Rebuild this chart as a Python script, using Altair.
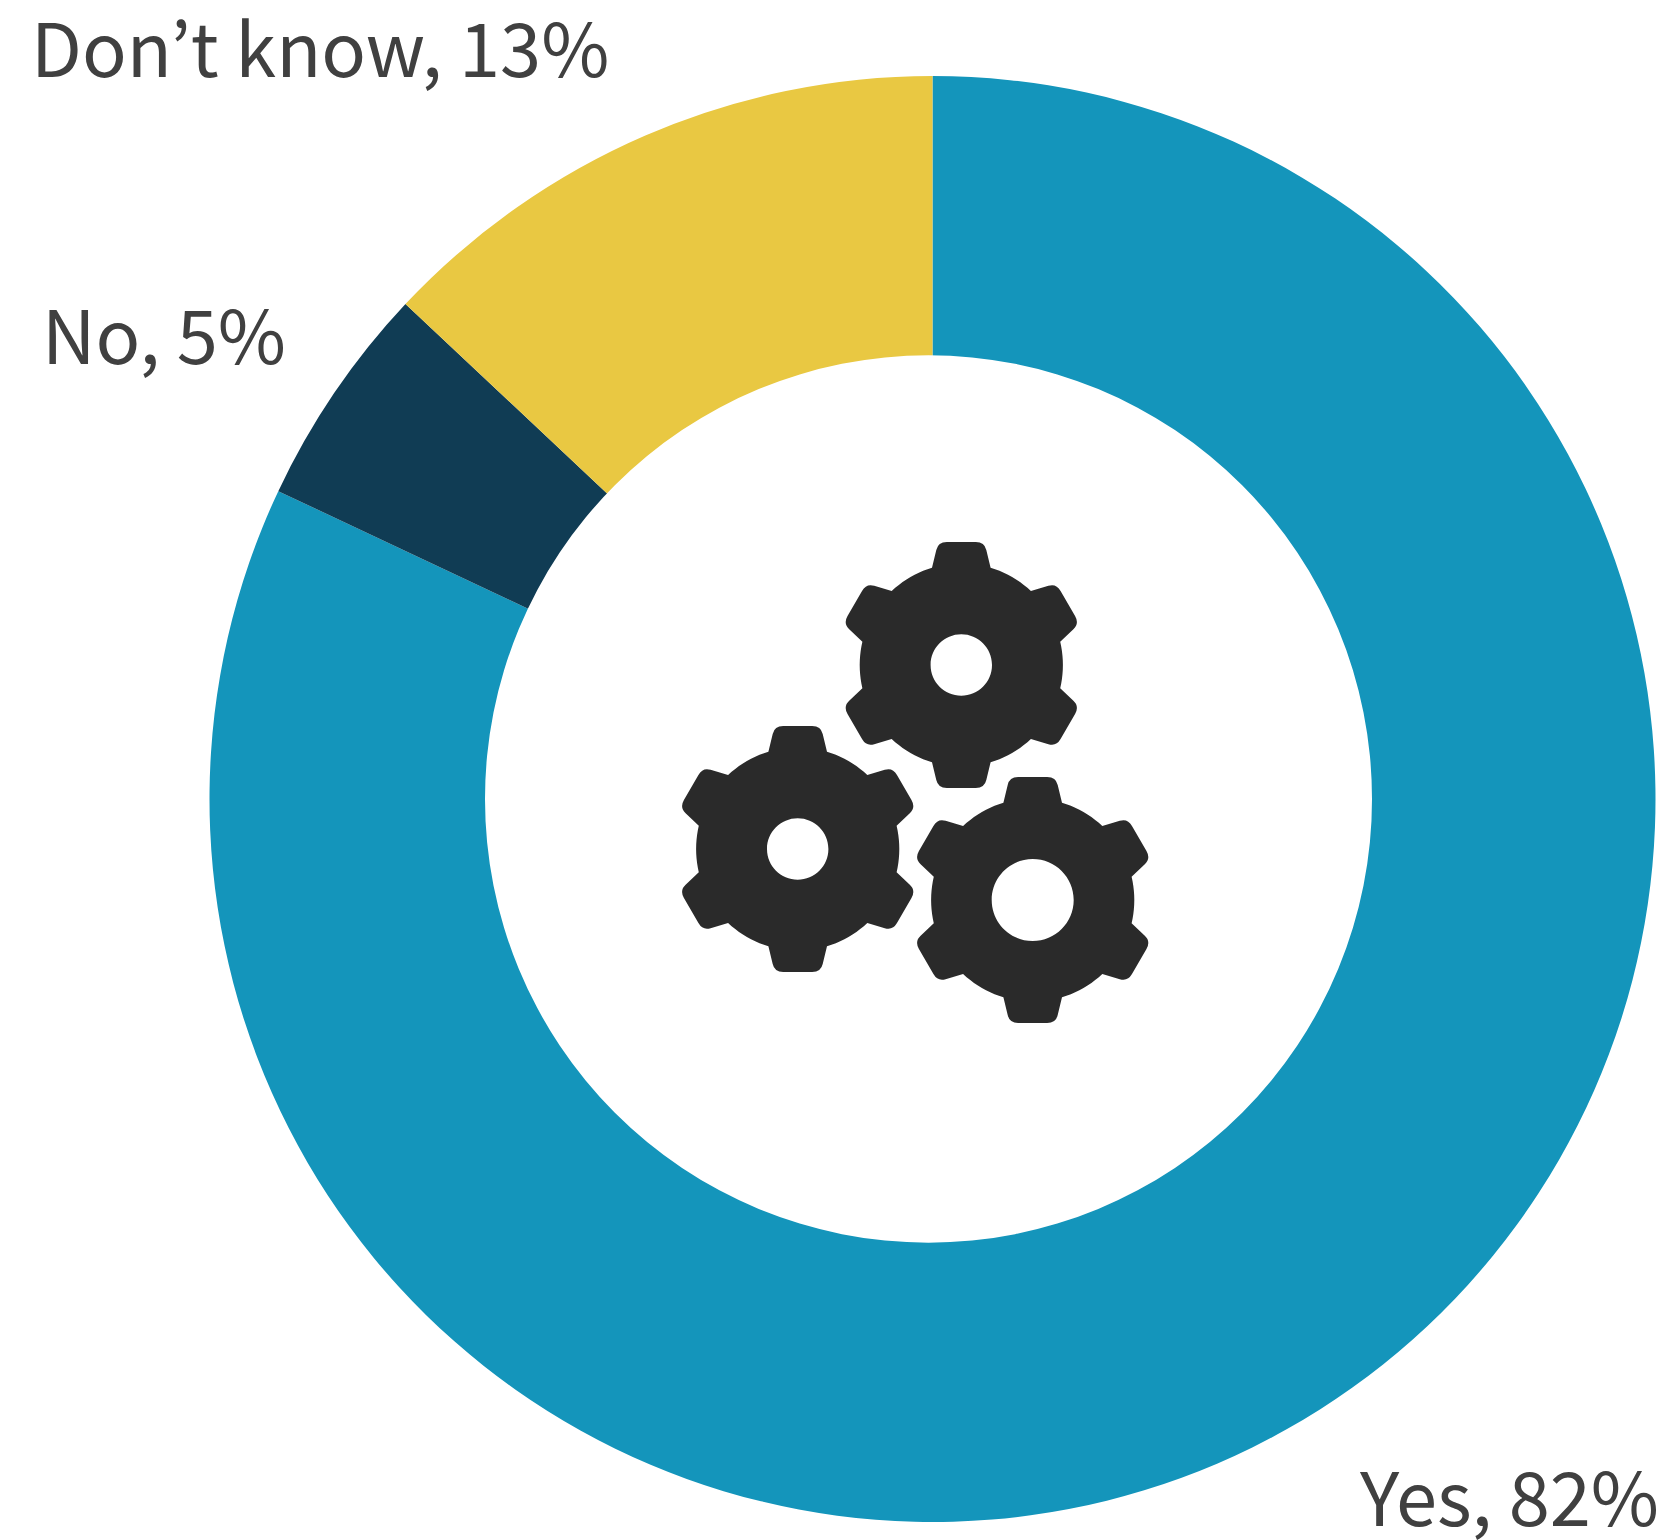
import math

import altair as alt
import pandas as pd

# Survey shares, in the order they run clockwise from twelve o'clock
answers = ["Yes", "No", "Don’t know"]
shares = [82, 5, 13]
colors = ["#1495BB", "#103C54", "#E9C842"]

WIDTH, HEIGHT = 1669, 1540
CENTER_X, CENTER_Y = 932.5, 799
OUTER_R, INNER_R = 723, 430
HOLE_X, HOLE_R = 928.5, 443.5

INK = "#404040"
GEAR_INK = "#2A2A2A"
FONT = "Noto Sans CJK JP"
FONT_SIZE = 74

# Where each label's left edge and baseline sit
label_spots = {
    "Don’t know": (31, 77),
    "No": (42, 364),
    "Yes": (1360, 1526),
}

# Gear outline, measured in pixels from the hub, with the top tooth pointing up
TIP_R = 123.0
BODY_R = 101.6
BASE_HALF = 29.3
BASE_Y = -97.3
SHOULDER = (25.0, -115.0)
CORNER_Y = -123.0
CORNER_X = 23.3
FLAT_HALF = 14.5


def gear_path(hole_radius):
    """SVG path, scaled so that the tooth tip lies at 1, with the hub cut out."""

    def rot(x, y, deg):
        a = math.radians(deg)
        return (
            (x * math.cos(a) - y * math.sin(a)) / TIP_R,
            (x * math.sin(a) + y * math.cos(a)) / TIP_R,
        )

    def pt(p):
        return f"{p[0]:.4f} {p[1]:.4f}"

    parts = []
    for i in range(6):
        deg = 60 * i
        start = rot(-BASE_HALF, BASE_Y, deg)
        parts.append(("M " if i == 0 else "L ") + pt(start))
        parts.append("L " + pt(rot(-SHOULDER[0], SHOULDER[1], deg)))
        parts.append("Q " + pt(rot(-CORNER_X, CORNER_Y, deg)) + " " + pt(rot(-FLAT_HALF, CORNER_Y, deg)))
        parts.append("L " + pt(rot(FLAT_HALF, CORNER_Y, deg)))
        parts.append("Q " + pt(rot(CORNER_X, CORNER_Y, deg)) + " " + pt(rot(SHOULDER[0], SHOULDER[1], deg)))
        parts.append("L " + pt(rot(BASE_HALF, BASE_Y, deg)))
        # Rim between this tooth and the next one
        a0 = math.degrees(math.atan2(BASE_HALF, -BASE_Y))
        steps = 10
        for s in range(1, steps):
            theta = a0 + (60 - 2 * a0) * s / steps
            parts.append("L " + pt(rot(0, -BODY_R, deg + theta)))
    parts.append("Z")
    # Hub hole wound the other way so the fill leaves it empty
    r = hole_radius / TIP_R
    k = 0.5523 * r
    parts.append(
        f"M 0 {-r:.4f} "
        f"C {-k:.4f} {-r:.4f} {-r:.4f} {-k:.4f} {-r:.4f} 0 "
        f"C {-r:.4f} {k:.4f} {-k:.4f} {r:.4f} 0 {r:.4f} "
        f"C {k:.4f} {r:.4f} {r:.4f} {k:.4f} {r:.4f} 0 "
        f"C {r:.4f} {-k:.4f} {k:.4f} {-r:.4f} 0 {-r:.4f} Z"
    )
    return " ".join(parts)


# The three gears in the middle: hub position and hub-hole radius
gear_x = [961.3, 797.7, 1032.7]
gear_y = [665, 849, 900]
gear_hole = [30.7, 30.7, 41]

table = pd.DataFrame(
    {
        "answer": answers,
        "share": shares,
        "rank": list(range(len(answers))),
        "label": [f"{a}, {s}%" for a, s in zip(answers, shares)],
    }
)

pos_x = alt.Scale(domain=[0, WIDTH], range=[0, WIDTH])
pos_y = alt.Scale(domain=[0, HEIGHT], range=[0, HEIGHT])

ring = (
    alt.Chart(table)
    .mark_arc(outerRadius=OUTER_R, innerRadius=INNER_R, strokeWidth=0)
    .encode(
        theta=alt.Theta("share:Q", stack=True, scale=alt.Scale(domain=[0, sum(shares)])),
        order=alt.Order("rank:Q"),
        color=alt.Color(
            "answer:N",
            scale=alt.Scale(domain=answers, range=colors),
            legend=None,
        ),
        x=alt.value(CENTER_X),
        y=alt.value(CENTER_Y),
    )
)

# White disc that forms the ring's inner edge, sitting slightly off the ring's centre.
# A Vega circle symbol's diameter is the square root of its size.
hole = (
    alt.Chart(pd.DataFrame({"x": [HOLE_X], "y": [CENTER_Y]}))
    .mark_point(
        shape="circle",
        filled=True,
        fill="white",
        opacity=1,
        strokeWidth=0,
        size=(2 * HOLE_R) ** 2,
    )
    .encode(
        x=alt.X("x:Q", scale=pos_x, axis=None),
        y=alt.Y("y:Q", scale=pos_y, axis=None),
    )
)

gears = [
    alt.Chart(pd.DataFrame({"x": [x], "y": [y]}))
    .mark_point(
        shape=gear_path(h),
        filled=True,
        fill=GEAR_INK,
        opacity=1,
        strokeWidth=0,
        size=(2 * TIP_R) ** 2,
    )
    .encode(
        x=alt.X("x:Q", scale=pos_x, axis=None),
        y=alt.Y("y:Q", scale=pos_y, axis=None),
    )
    for x, y, h in zip(gear_x, gear_y, gear_hole)
]

labels = [
    alt.Chart(table[table["answer"] == a])
    .mark_text(
        font=FONT,
        fontSize=FONT_SIZE,
        fontWeight=400,
        color=INK,
        align="left",
        baseline="alphabetic",
        x=label_spots[a][0],
        y=label_spots[a][1],
    )
    .encode(text="label:N")
    for a in answers
]

chart = (
    alt.layer(ring, hole, *gears, *labels)
    .resolve_scale(color="independent")
    .properties(
        width=WIDTH,
        height=HEIGHT,
        padding=0,
        autosize=alt.AutoSizeParams(type="none"),
        background="white",
    )
    .configure_view(stroke=None)
)

chart.save("out.html", embed_options={"renderer": "svg", "actions": False})
